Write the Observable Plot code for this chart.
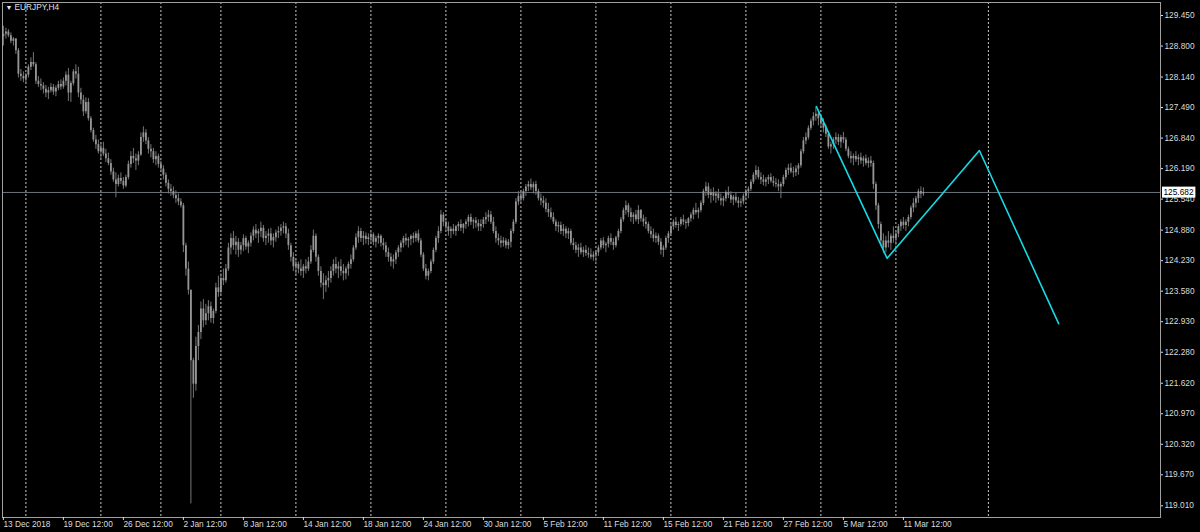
<!DOCTYPE html>
<html><head><meta charset="utf-8">
<script src="https://cdn.jsdelivr.net/npm/d3@7"></script>
<script src="https://cdn.jsdelivr.net/npm/@observablehq/plot@0.6"></script>
<style>html,body{margin:0;padding:0;background:#000;overflow:hidden}</style>
</head><body><div id="chart"></div>
<script>
const symbolTitle = "EURJPY,H4";
const firstOpen = 129.00;

const highs = [
129.22,129.18,129.15,129.08,128.98,128.96,128.75,128.30,128.25,128.22,
128.40,128.55,128.66,128.45,128.15,128.10,128.02,127.96,127.92,128.00,
127.98,127.95,128.05,128.08,128.12,128.25,128.32,128.05,128.30,128.40,
128.35,127.90,127.75,127.70,127.68,127.30,127.05,126.90,126.80,126.72,
126.75,126.60,126.52,126.38,126.20,126.10,126.05,126.10,126.00,126.05,
126.35,126.55,126.62,126.50,126.55,126.95,127.08,127.02,126.85,126.70,
126.62,126.55,126.50,126.35,126.25,126.10,125.95,125.85,125.80,125.72,
125.65,125.55,125.45,124.60,124.20,123.60,122.15,122.60,122.85,123.35,
123.40,123.30,123.38,123.35,123.20,123.75,123.90,123.95,124.05,124.15,
124.60,124.80,124.85,124.75,124.70,124.62,124.78,124.75,124.65,124.82,
124.95,125.00,124.90,125.05,124.98,124.85,124.90,124.92,124.80,124.88,
124.95,125.00,125.05,125.02,124.90,124.60,124.40,124.25,124.20,124.25,
124.15,124.25,124.30,124.55,124.88,124.80,124.35,124.10,123.95,123.90,
124.00,124.10,124.25,124.30,124.20,124.25,124.15,124.10,124.20,124.35,
124.55,124.80,124.95,124.92,124.85,124.82,124.80,124.85,124.82,124.75,
124.80,124.78,124.70,124.62,124.50,124.38,124.35,124.45,124.55,124.65,
124.75,124.80,124.72,124.78,124.82,124.85,124.88,124.70,124.40,124.15,
124.05,124.25,124.50,124.75,124.95,125.30,125.25,125.10,125.05,124.95,
125.00,124.98,125.05,125.10,125.02,125.10,125.20,125.22,125.12,125.15,
125.10,125.10,125.15,125.25,125.30,125.28,125.15,124.95,124.80,124.75,
124.72,124.70,124.68,124.90,125.10,125.55,125.70,125.72,125.75,125.85,
125.92,125.97,125.90,125.92,125.75,125.65,125.60,125.55,125.45,125.35,
125.25,125.10,125.05,125.05,125.00,124.95,124.92,124.90,124.70,124.62,
124.58,124.60,124.52,124.55,124.50,124.48,124.42,124.45,124.55,124.70,
124.72,124.62,124.75,124.80,124.70,124.75,124.90,125.15,125.35,125.50,
125.45,125.35,125.25,125.30,125.40,125.32,125.20,125.15,125.05,124.95,
124.90,124.82,124.80,124.70,124.55,124.75,124.85,125.00,125.10,125.15,
125.05,125.15,125.20,125.10,125.15,125.25,125.35,125.45,125.35,125.50,
125.75,125.90,125.88,125.75,125.78,125.70,125.75,125.65,125.60,125.72,
125.80,125.70,125.62,125.68,125.58,125.55,125.65,125.75,125.80,125.95,
126.10,126.25,126.22,126.10,126.05,126.00,126.05,126.08,126.02,125.98,
125.95,125.90,126.05,126.20,126.28,126.30,126.22,126.25,126.30,126.60,
126.85,126.95,127.10,127.25,127.38,127.50,127.40,127.32,127.25,127.12,
126.95,126.75,126.85,126.95,126.92,126.90,126.96,126.85,126.65,126.55,
126.50,126.55,126.48,126.52,126.45,126.48,126.42,126.45,126.35,125.90,
125.45,125.05,124.80,124.75,124.85,124.80,124.95,124.85,125.00,125.10,
125.15,125.10,125.20,125.40,125.55,125.60,125.75,125.80,125.78
];

const lows = [
128.80,128.95,128.98,128.85,128.80,128.62,128.12,128.05,128.02,127.98,
128.12,128.28,128.35,127.98,127.92,127.85,127.78,127.70,127.66,127.80,
127.75,127.72,127.85,127.86,127.88,127.95,127.62,127.60,127.95,128.10,
127.70,127.55,127.30,127.35,127.20,126.95,126.75,126.60,126.50,126.40,
126.45,126.32,126.25,126.05,125.90,125.57,125.80,125.85,125.75,125.78,
125.95,126.20,126.30,126.15,126.25,126.45,126.75,126.70,126.50,126.42,
126.30,126.25,126.20,126.10,125.95,125.80,125.65,125.60,125.55,125.45,
125.40,125.35,124.40,123.90,123.50,119.05,121.30,121.45,122.10,122.55,
122.80,122.85,122.95,122.90,122.88,123.10,123.45,123.50,123.70,123.75,
124.00,124.35,124.45,124.35,124.30,124.35,124.42,124.45,124.38,124.52,
124.65,124.70,124.60,124.72,124.62,124.55,124.60,124.55,124.50,124.62,
124.70,124.75,124.80,124.70,124.45,124.20,124.00,123.90,123.95,123.90,
123.85,123.95,124.00,124.15,124.40,124.20,123.90,123.65,123.40,123.55,
123.65,123.75,123.90,123.95,123.85,123.90,123.80,123.82,123.90,124.05,
124.20,124.45,124.60,124.62,124.55,124.58,124.55,124.60,124.55,124.50,
124.58,124.52,124.45,124.30,124.20,124.10,124.05,124.15,124.30,124.40,
124.50,124.55,124.50,124.55,124.60,124.62,124.60,124.30,124.00,123.82,
123.80,123.95,124.15,124.40,124.60,124.80,124.95,124.85,124.75,124.70,
124.78,124.75,124.85,124.85,124.80,124.90,124.95,124.98,124.90,124.92,
124.85,124.85,124.92,125.00,125.05,125.00,124.80,124.60,124.55,124.50,
124.52,124.48,124.47,124.50,124.80,125.00,125.40,125.45,125.50,125.60,
125.70,125.72,125.65,125.62,125.50,125.40,125.35,125.25,125.15,125.10,
125.00,124.85,124.82,124.78,124.75,124.70,124.68,124.55,124.45,124.38,
124.30,124.35,124.30,124.32,124.28,124.25,124.22,124.20,124.32,124.45,
124.48,124.40,124.50,124.55,124.45,124.50,124.65,124.80,125.05,125.20,
125.15,125.05,125.00,125.05,125.00,125.05,124.95,124.90,124.80,124.70,
124.62,124.60,124.55,124.35,124.30,124.45,124.60,124.75,124.88,124.92,
124.85,124.95,124.98,124.90,124.95,125.05,125.10,125.20,125.12,125.25,
125.40,125.60,125.55,125.45,125.50,125.45,125.50,125.40,125.38,125.48,
125.55,125.45,125.40,125.45,125.35,125.36,125.42,125.50,125.55,125.70,
125.85,125.95,125.95,125.85,125.82,125.80,125.85,125.88,125.80,125.78,
125.70,125.55,125.80,125.95,126.05,126.08,126.00,126.02,126.05,126.20,
126.50,126.70,126.80,127.00,127.10,127.20,127.10,127.05,126.95,126.85,
126.60,126.50,126.60,126.70,126.68,126.62,126.72,126.55,126.40,126.30,
126.25,126.32,126.25,126.28,126.22,126.25,126.20,126.22,125.75,125.30,
124.90,124.55,124.38,124.40,124.50,124.45,124.60,124.55,124.72,124.85,
124.90,124.85,124.95,125.10,125.25,125.35,125.45,125.55,125.60
];

const closes = [
129.05,129.10,129.02,128.90,128.95,128.70,128.20,128.15,128.10,128.18,
128.35,128.45,128.40,128.05,127.98,127.95,127.88,127.80,127.85,127.92,
127.82,127.90,127.98,127.93,128.05,128.18,127.80,128.00,128.25,128.20,
127.80,127.65,127.40,127.60,127.25,127.00,126.80,126.70,126.55,126.62,
126.50,126.40,126.30,126.12,125.95,125.85,125.98,125.92,125.82,126.00,
126.28,126.45,126.40,126.35,126.48,126.85,126.95,126.78,126.60,126.55,
126.38,126.45,126.28,126.18,126.05,125.88,125.75,125.70,125.62,125.55,
125.48,125.40,124.55,124.05,123.60,122.10,121.60,122.40,122.70,123.20,
122.95,123.10,123.25,123.00,123.15,123.65,123.55,123.85,123.80,124.05,
124.50,124.70,124.55,124.62,124.45,124.55,124.70,124.52,124.60,124.75,
124.88,124.80,124.85,124.92,124.70,124.75,124.80,124.65,124.72,124.82,
124.85,124.92,124.95,124.80,124.55,124.30,124.10,124.15,124.05,124.00,
124.10,124.05,124.20,124.45,124.75,124.30,124.00,123.75,123.70,123.80,
123.85,124.00,124.15,124.05,124.10,124.00,123.95,124.05,124.15,124.25,
124.50,124.72,124.85,124.70,124.75,124.68,124.72,124.78,124.62,124.70,
124.75,124.60,124.55,124.40,124.30,124.20,124.25,124.40,124.50,124.60,
124.70,124.65,124.68,124.75,124.70,124.80,124.65,124.35,124.05,123.90,
124.00,124.20,124.45,124.70,124.85,125.20,125.05,124.95,124.85,124.90,
124.85,124.95,125.00,124.92,125.00,125.05,125.15,125.05,125.08,125.02,
124.95,125.00,125.10,125.15,125.20,125.05,124.85,124.70,124.65,124.60,
124.65,124.55,124.62,124.85,125.05,125.48,125.60,125.55,125.70,125.80,
125.85,125.78,125.85,125.70,125.55,125.50,125.45,125.32,125.25,125.15,
125.05,124.95,124.98,124.85,124.90,124.80,124.85,124.60,124.55,124.45,
124.50,124.40,124.45,124.38,124.35,124.30,124.35,124.40,124.50,124.65,
124.55,124.58,124.70,124.62,124.55,124.72,124.85,125.10,125.30,125.40,
125.25,125.15,125.20,125.10,125.30,125.12,125.05,125.00,124.85,124.78,
124.70,124.75,124.62,124.45,124.50,124.70,124.80,124.95,125.05,124.98,
125.00,125.10,125.05,125.02,125.12,125.20,125.30,125.25,125.30,125.45,
125.70,125.80,125.62,125.68,125.60,125.65,125.55,125.50,125.55,125.68,
125.62,125.52,125.58,125.50,125.45,125.48,125.60,125.70,125.75,125.90,
126.05,126.15,126.00,125.95,125.90,125.95,126.00,125.92,125.88,125.85,
125.80,125.85,126.00,126.15,126.20,126.12,126.10,126.18,126.25,126.55,
126.78,126.85,127.05,127.20,127.30,127.35,127.25,127.15,127.05,126.92,
126.65,126.70,126.80,126.85,126.75,126.85,126.80,126.60,126.45,126.40,
126.45,126.38,126.42,126.35,126.40,126.30,126.35,126.30,125.85,125.40,
125.00,124.65,124.50,124.65,124.60,124.75,124.70,124.80,124.95,125.05,
124.98,125.05,125.15,125.35,125.45,125.55,125.70,125.65,125.68
];

const tickIndex = [0,24,48,72,96,120,144,168,192,216,240,264,288,312,336,360];
const dateLabels = ["13 Dec 2018","19 Dec 12:00","26 Dec 12:00","2 Jan 12:00","8 Jan 12:00","14 Jan 12:00","18 Jan 12:00","24 Jan 12:00","30 Jan 12:00","5 Feb 12:00","11 Feb 12:00","15 Feb 12:00","21 Feb 12:00","27 Feb 12:00","5 Mar 12:00","11 Mar 12:00"];
const priceTicks = [129.45,128.80,128.14,127.49,126.84,126.19,125.54,124.88,124.23,123.58,122.93,122.28,121.62,120.97,120.32,119.67,119.01];
const separatorIndex = [9,39,63,87,117,147,177,207,237,267,297,327,357,394];
const currentPrice = 125.682;
const zigzagIndex = [325.2,353.5,390.4,422.1];
const zigzagPrice = [127.51,124.28,126.575,122.89];

const xDomain = [-0.36, 462.84];
const yDomain = [118.761, 129.727];

const bars = closes.map((c, i) => {
  const open = i === 0 ? firstOpen : closes[i - 1];
  return {i, open, close: c, high: Math.max(highs[i], open, c), low: Math.min(lows[i], open, c)};
});
const zigzag = zigzagIndex.map((x, k) => ({x, p: zigzagPrice[k]}));

const chart = Plot.plot({
  width: 1200, height: 532,
  marginTop: 2, marginBottom: 15, marginLeft: 2, marginRight: 40,
  x: {domain: xDomain},
  y: {domain: yDomain},
  style: {background: "#000", color: "#dcdcdc", fontFamily: "'Liberation Sans', Arial, sans-serif", fontSize: "8.3px"},
  marks: [
    Plot.ruleX(separatorIndex, {stroke: "#c8c8c8", strokeDasharray: "2,2"}),
    Plot.ruleY([currentPrice], {stroke: "#6d737c"}),
    Plot.ruleX(bars, {x: "i", y1: "low", y2: "high", stroke: "#767676"}),
    Plot.ruleX(bars, {x: "i", y1: "open", y2: "close", stroke: "#959595", strokeWidth: 1.8}),
    Plot.line(zigzag, {x: "x", y: "p", stroke: "#14dbe6", strokeWidth: 1.6}),
    Plot.frame({stroke: "#a0a0a0"}),
    Plot.axisY({anchor: "right", ticks: priceTicks, tickFormat: d => d.toFixed(3), tickSize: 2, tickPadding: 2, label: null, color: "#dcdcdc"}),
    Plot.axisX({anchor: "bottom", ticks: tickIndex, tickFormat: d => dateLabels[tickIndex.indexOf(d)], tickSize: 3, tickPadding: 1, textAnchor: "start", label: null, color: "#dcdcdc"}),
    Plot.text([currentPrice], {x: xDomain[1], y: d => d, text: d => d.toFixed(3), textAnchor: "start", dx: 3, fill: "#000", className: "pricetag"}),
    Plot.text(["▼"], {frameAnchor: "top-left", dx: 3, dy: 3, fontSize: 7, fill: "#e8e8e8", textAnchor: "start", lineAnchor: "top"}),
    Plot.text([symbolTitle], {frameAnchor: "top-left", dx: 12, dy: 2, fill: "#e0e0e0", textAnchor: "start", lineAnchor: "top"})
  ]
});
document.getElementById("chart").append(chart);

d3.select(chart).selectAll(".pricetag text").each(function() {
  const b = this.getBBox();
  const r = document.createElementNS("http://www.w3.org/2000/svg", "rect");
  r.setAttribute("x", b.x - 1.5);
  r.setAttribute("y", b.y - 0.5);
  r.setAttribute("width", b.width + 3);
  r.setAttribute("height", b.height + 1);
  r.setAttribute("fill", "#fff");
  const tr = this.getAttribute("transform");
  if (tr) r.setAttribute("transform", tr);
  this.parentNode.insertBefore(r, this);
});
</script>
</body></html>
